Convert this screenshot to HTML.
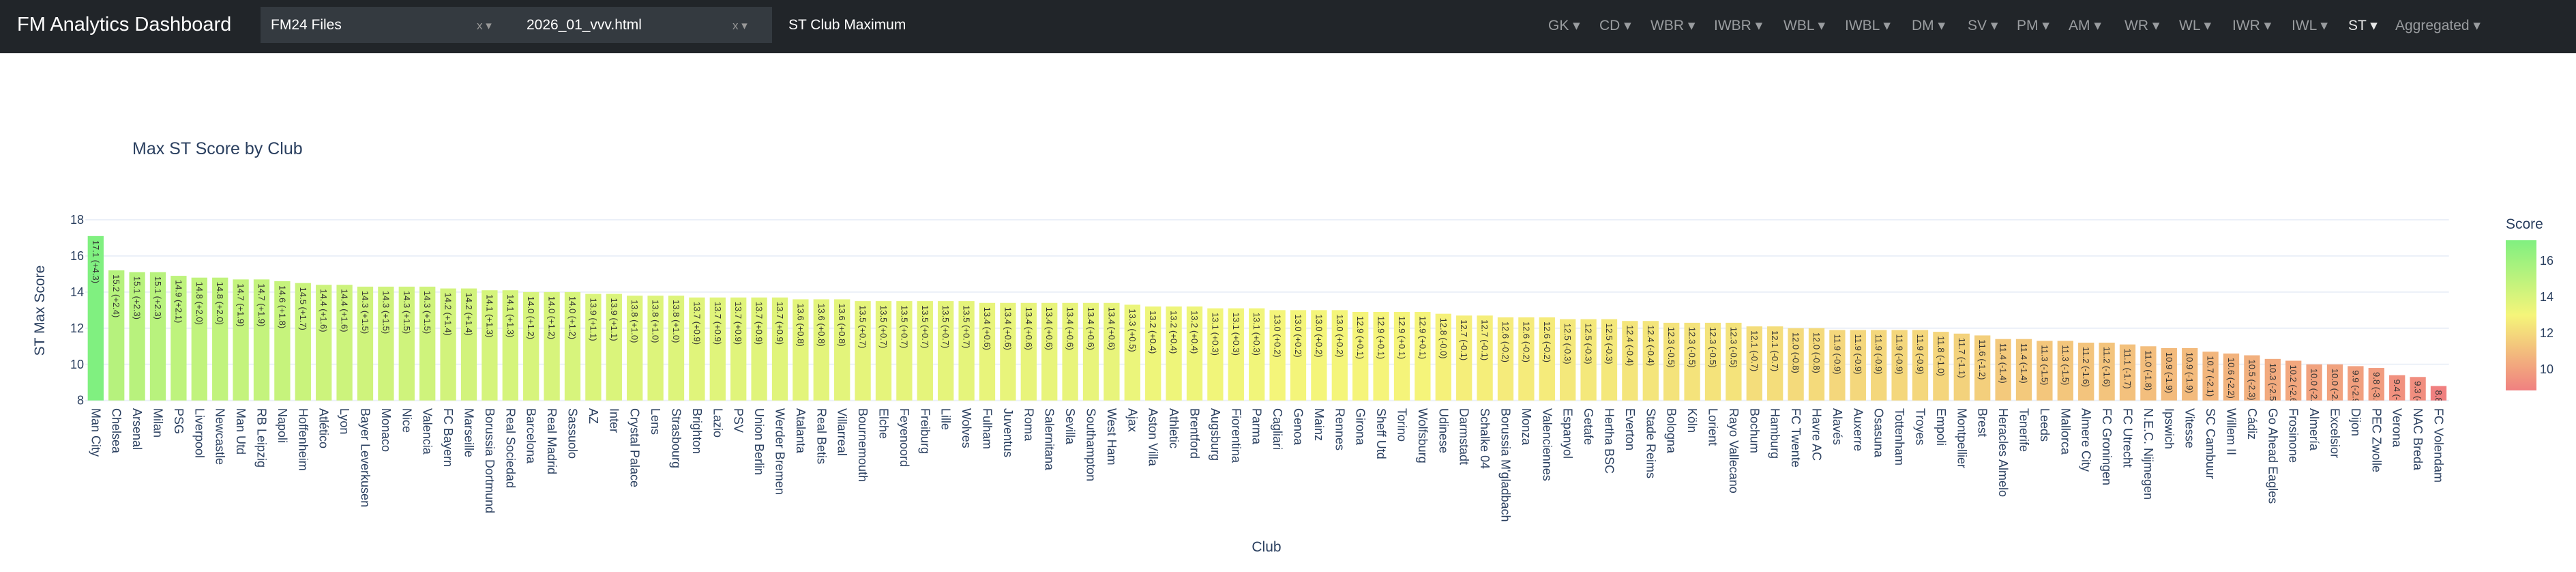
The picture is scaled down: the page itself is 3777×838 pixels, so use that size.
<!DOCTYPE html>
<html><head><meta charset="utf-8"><title>FM Analytics Dashboard</title>
<style>
*{box-sizing:border-box;margin:0;padding:0}
body{width:3777px;height:838px;background:#fff;font-family:"Liberation Sans",sans-serif;position:relative;overflow:hidden}
#hdr{position:absolute;left:0;top:0;width:3777px;height:78px;background:#212529}
.t{position:absolute;white-space:nowrap}
.brand{left:25px;top:20px;font-size:29px;color:#fff}
.dd{position:absolute;top:10px;height:53px;background:#343a40}
.ddt{font-size:21px;color:#fff;top:15px}
.ddx{font-size:17px;color:#999;top:18px}
.nav{font-size:21px;color:#9a9da0;top:25px}
.nav.act{color:#e8e8e8}
</style></head><body>
<div id="hdr">
  <div class="t brand">FM Analytics Dashboard</div>
  <div class="dd" style="left:382px;width:375px">
    <div class="t ddt" style="left:15px">FM24 Files</div>
    <div class="t ddx" style="left:317px">x ▾</div>
  </div>
  <div class="dd" style="left:757px;width:375px">
    <div class="t ddt" style="left:15px">2026_01_vvv.html</div>
    <div class="t ddx" style="left:317px">x ▾</div>
  </div>
  <div class="t ddt" style="left:1156px;top:25px">ST Club Maximum</div>
  <div class="t nav" style="left:2270px">GK ▾</div>
  <div class="t nav" style="left:2345px">CD ▾</div>
  <div class="t nav" style="left:2420px">WBR ▾</div>
  <div class="t nav" style="left:2513px">IWBR ▾</div>
  <div class="t nav" style="left:2615px">WBL ▾</div>
  <div class="t nav" style="left:2705px">IWBL ▾</div>
  <div class="t nav" style="left:2803px">DM ▾</div>
  <div class="t nav" style="left:2885px">SV ▾</div>
  <div class="t nav" style="left:2957px">PM ▾</div>
  <div class="t nav" style="left:3033px">AM ▾</div>
  <div class="t nav" style="left:3115px">WR ▾</div>
  <div class="t nav" style="left:3195px">WL ▾</div>
  <div class="t nav" style="left:3273px">IWR ▾</div>
  <div class="t nav" style="left:3360px">IWL ▾</div>
  <div class="t nav act" style="left:3443px">ST ▾</div>
  <div class="t nav" style="left:3512px">Aggregated ▾</div>
</div>
<svg id="chart" width="3777" height="838" style="position:absolute;left:0;top:0" xmlns="http://www.w3.org/2000/svg">
  <defs>
    <linearGradient id="cbg" x1="0" y1="1" x2="0" y2="0">
      <stop offset="0" stop-color="rgb(240,128,128)"/>
      <stop offset="0.5" stop-color="rgb(245,245,122)"/>
      <stop offset="1" stop-color="rgb(128,240,128)"/>
    </linearGradient>
  </defs>
  <g id="grid"></g><g id="bars"></g><g id="labels"></g>
  <text x="194" y="226" font-size="25" fill="#2a3f5f" font-family="Liberation Sans, sans-serif">Max ST Score by Club</text>
  <text transform="translate(65,455) rotate(-90)" text-anchor="middle" font-size="21" fill="#2a3f5f" font-family="Liberation Sans, sans-serif">ST Max Score</text>
  <text x="1857" y="808" text-anchor="middle" font-size="21" fill="#2a3f5f" font-family="Liberation Sans, sans-serif">Club</text>
  <text x="3674" y="335" font-size="21" fill="#2a3f5f" font-family="Liberation Sans, sans-serif">Score</text>
  <rect x="3674" y="352" width="45" height="220" fill="url(#cbg)"/>
  <g id="cbticks"></g>
</svg>
<script>
const clubs=["Man City","Chelsea","Arsenal","Milan","PSG","Liverpool","Newcastle","Man Utd","RB Leipzig","Napoli","Hoffenheim","Atlético","Lyon","Bayer Leverkusen","Monaco","Nice","Valencia","FC Bayern","Marseille","Borussia Dortmund","Real Sociedad","Barcelona","Real Madrid","Sassuolo","AZ","Inter","Crystal Palace","Lens","Strasbourg","Brighton","Lazio","PSV","Union Berlin","Werder Bremen","Atalanta","Real Betis","Villarreal","Bournemouth","Elche","Feyenoord","Freiburg","Lille","Wolves","Fulham","Juventus","Roma","Salernitana","Sevilla","Southampton","West Ham","Ajax","Aston Villa","Athletic","Brentford","Augsburg","Fiorentina","Parma","Cagliari","Genoa","Mainz","Rennes","Girona","Sheff Utd","Torino","Wolfsburg","Udinese","Darmstadt","Schalke 04","Borussia M'gladbach","Monza","Valenciennes","Espanyol","Getafe","Hertha BSC","Everton","Stade Reims","Bologna","Köln","Lorient","Rayo Vallecano","Bochum","Hamburg","FC Twente","Havre AC","Alavés","Auxerre","Osasuna","Tottenham","Troyes","Empoli","Montpellier","Brest","Heracles Almelo","Tenerife","Leeds","Mallorca","Almere City","FC Groningen","FC Utrecht","N.E.C. Nijmegen","Ipswich","Vitesse","SC Cambuur","Willem II","Cádiz","Go Ahead Eagles","Frosinone","Almería","Excelsior","Dijon","PEC Zwolle","Verona","NAC Breda","FC Volendam"];
const scores=[17.1,15.2,15.1,15.1,14.9,14.8,14.8,14.7,14.7,14.6,14.5,14.4,14.4,14.3,14.3,14.3,14.3,14.2,14.2,14.1,14.1,14.0,14.0,14.0,13.9,13.9,13.8,13.8,13.8,13.7,13.7,13.7,13.7,13.7,13.6,13.6,13.6,13.5,13.5,13.5,13.5,13.5,13.5,13.4,13.4,13.4,13.4,13.4,13.4,13.4,13.3,13.2,13.2,13.2,13.1,13.1,13.1,13.0,13.0,13.0,13.0,12.9,12.9,12.9,12.9,12.8,12.7,12.7,12.6,12.6,12.6,12.5,12.5,12.5,12.4,12.4,12.3,12.3,12.3,12.3,12.1,12.1,12.0,12.0,11.9,11.9,11.9,11.9,11.9,11.8,11.7,11.6,11.4,11.4,11.3,11.3,11.2,11.2,11.1,11.0,10.9,10.9,10.7,10.6,10.5,10.3,10.2,10.0,10.0,9.9,9.8,9.4,9.3,8.8];
const baseline=12.82;
const yTicks=[8,10,12,14,16,18];
const cbTicks=[10,12,14,16];

const NS="http://www.w3.org/2000/svg";
const X0=125.1, STEP=30.4, BW=23.3, Y8=586.7, PPU=26.47;
const xc=i=>X0+STEP*(i+0.5);
const y=v=>Y8-(v-8)*PPU;
const cmin=Math.min(...scores), cmax=Math.max(...scores);
function col(v){
  const t=Math.max(0,Math.min(1,(v-cmin)/(cmax-cmin)));
  const a=[240,128,128],b=[245,245,122],c=[128,240,128];
  let p,q,u; if(t<0.5){p=a;q=b;u=t/0.5}else{p=b;q=c;u=(t-0.5)/0.5}
  return 'rgb('+p.map((k,j)=>Math.round(k+(q[j]-k)*u)).join(',')+')';
}
function mk(tag,attrs,parent,txt){const e=document.createElementNS(NS,tag);for(const k in attrs)e.setAttribute(k,attrs[k]);if(txt!==undefined)e.textContent=txt;parent.appendChild(e);return e;}
const grid=document.getElementById('grid'),bars=document.getElementById('bars'),labels=document.getElementById('labels'),defs=document.querySelector('defs');
yTicks.forEach(t=>{
  const l=mk('line',{x1:X0,x2:X0+STEP*clubs.length,y1:y(t),y2:y(t),stroke:'#ebf0f8','stroke-width':2},grid);
  
  
  const tx=mk('text',{x:123,y:y(t)+6,'text-anchor':'end','font-size':18,fill:'#2a3f5f','font-family':'Liberation Sans, sans-serif'},grid,String(t));
  
  
});
scores.forEach((v,i)=>{
  const x=xc(i)-BW/2, top=y(v), h=Y8-top;
  const cp=mk('clipPath',{id:'c'+i},defs); mk('rect',{x:x,y:top,width:BW,height:h},cp);
  const r=mk('rect',{x:x,y:top,width:BW,height:h,fill:col(v)},bars);
  
  
  const d=v-baseline, s=(d>=0?'+':'-')+Math.abs(d).toFixed(1);
  const g=mk('g',{'clip-path':'url(#c'+i+')'},bars);
  const bt=mk('text',{transform:'translate('+xc(i)+','+(top+6)+') rotate(90)','dominant-baseline':'central','font-size':13,fill:'#333','font-family':'Liberation Sans, sans-serif'},g,v.toFixed(1)+' ('+s+')');
  
  
  const lt=mk('text',{transform:'translate('+xc(i)+',598) rotate(90)','dominant-baseline':'central','font-size':18,fill:'#2a3f5f','font-family':'Liberation Sans, sans-serif'},labels,clubs[i]);
  
  
});
const cbg=document.getElementById('cbticks');
const cbTop=352,cbBot=572;
cbTicks.forEach(t=>{
  const yy=cbBot-(t-cmin)/(cmax-cmin)*(cbBot-cbTop);
  const tx=mk('text',{x:3724,y:yy+7,'font-size':18,fill:'#2a3f5f','font-family':'Liberation Sans, sans-serif'},cbg,String(t));
  
  
});
</script>
</body></html>
